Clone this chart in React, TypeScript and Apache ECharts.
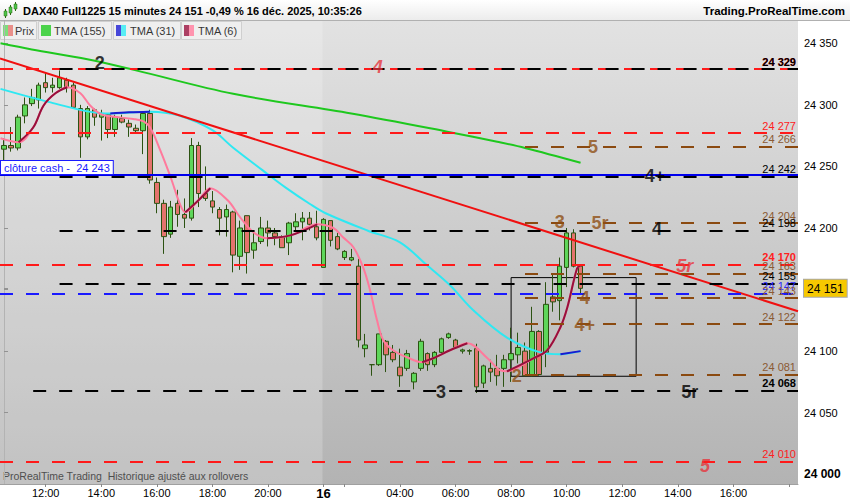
import React, { useEffect, useRef } from 'react';
import * as echarts from 'echarts';

const FONT = 'Arial, "Liberation Sans", sans-serif';

// 15-minute bars: index 0 = 15 déc. 10:30 ... 45 = 21:45 ; 46 = 16 déc. 01:15 ... 83 = 10:30
// [open, close, low, high]
const ohlc: number[][] = [
  [24264, 24267, 24255, 24273], [24267, 24265, 24262, 24282], [24265, 24290, 24263, 24292],
  [24291, 24300, 24285, 24306], [24301, 24306, 24299, 24313], [24304, 24316, 24297, 24318],
  [24318, 24314, 24310, 24326], [24314, 24316, 24310, 24322], [24314, 24322, 24313, 24328],
  [24320, 24314, 24310, 24322], [24316, 24298, 24297, 24318], [24297, 24274, 24257, 24300],
  [24274, 24297, 24272, 24299], [24296, 24290, 24283, 24297], [24290, 24293, 24271, 24296],
  [24292, 24280, 24273, 24293], [24280, 24290, 24274, 24292], [24289, 24286, 24285, 24292],
  [24285, 24282, 24274, 24288], [24281, 24279, 24277, 24284], [24279, 24293, 24260, 24294],
  [24293, 24239, 24236, 24296], [24237, 24220, 24212, 24241], [24220, 24193, 24179, 24223],
  [24195, 24217, 24192, 24222], [24220, 24211, 24201, 24231], [24211, 24208, 24200, 24224],
  [24208, 24267, 24206, 24273], [24267, 24228, 24217, 24270], [24228, 24224, 24222, 24250],
  [24222, 24217, 24212, 24230], [24215, 24208, 24194, 24217], [24209, 24215, 24193, 24219],
  [24213, 24178, 24164, 24214], [24177, 24200, 24166, 24206], [24210, 24180, 24163, 24210],
  [24182, 24188, 24175, 24197], [24189, 24200, 24187, 24209], [24200, 24196, 24185, 24206],
  [24196, 24193, 24186, 24200], [24193, 24184, 24184, 24194], [24188, 24204, 24178, 24205],
  [24201, 24205, 24198, 24212], [24205, 24208, 24190, 24213], [24208, 24203, 24198, 24213],
  [24201, 24192, 24190, 24214],
  [24168, 24207, 24168, 24208], [24206, 24190, 24185, 24206], [24193, 24183, 24182, 24196],
  [24176, 24181, 24174, 24182], [24174, 24176, 24173, 24183], [24169, 24109, 24103, 24175],
  [24102, 24105, 24095, 24114], [24089, 24089, 24080, 24089], [24089, 24114, 24088, 24114],
  [24108, 24097, 24083, 24109], [24099, 24093, 24091, 24105], [24087, 24080, 24071, 24102],
  [24086, 24098, 24084, 24101], [24075, 24082, 24069, 24083], [24086, 24108, 24084, 24110],
  [24098, 24089, 24084, 24099], [24089, 24099, 24087, 24100], [24099, 24110, 24098, 24111],
  [24111, 24114, 24110, 24115], [24109, 24103, 24102, 24110], [24100, 24101, 24098, 24102],
  [24100, 24100.5, 24097, 24101.5], [24102, 24071, 24066, 24106], [24074, 24088, 24070, 24089],
  [24086, 24083, 24075, 24093], [24086, 24080, 24072, 24097], [24086, 24093, 24071, 24097],
  [24093, 24098, 24075, 24119], [24097, 24103, 24090, 24115], [24100, 24080, 24080, 24107],
  [24080, 24116, 24079, 24136], [24116, 24081, 24080, 24117], [24099, 24138, 24087, 24156],
  [24144, 24140, 24132, 24162], [24141, 24169, 24125, 24176], [24168, 24196, 24152, 24200],
  [24196, 24169, 24168, 24199], [24169, 24151, 24147, 24170],
];

// moving averages: [bar index, value]
const tma155: number[][] = [
  [-0.5, 24350], [4, 24345], [12, 24337], [19, 24328], [33, 24309], [50, 24293],
  [64, 24278], [71, 24270], [75, 24265], [83, 24253],
];
const tma31: number[][] = [
  [-0.5, 24313], [6.7, 24302], [13.9, 24293.2], [15.3, 24293], [21, 24294.5], [25.1, 24291.5],
  [30, 24279.4], [32.9, 24265.6], [37.2, 24247], [40.5, 24233], [44.1, 24219.3], [46.3, 24212],
  [52.3, 24198], [57, 24188.4], [60.9, 24169.7], [64.2, 24153.5], [67.6, 24133], [72.4, 24111],
  [77.2, 24099], [80.1, 24097.5], [83, 24100],
];
const tma31Rising: number[][][] = [
  [[15.3, 24293], [18, 24294], [21, 24294.5]],
  [[80.1, 24097.5], [83, 24100]],
];
const tma6: number[][] = [
  [-0.5, 24272.9], [2.1, 24269.6], [4.2, 24281.6], [5.7, 24299.5], [7.4, 24309.4], [9.1, 24314.3],
  [11, 24309.4], [12.4, 24299.5], [13.9, 24292.5], [15.3, 24290.7], [18.6, 24288.5], [20.1, 24286.5],
  [21.1, 24281], [22.5, 24263], [24, 24241], [25.4, 24218.4], [26.1, 24212.8], [28, 24222.5],
  [29.7, 24232.3], [32.2, 24222.5], [34, 24208.7], [35.9, 24196.5], [37.9, 24191.7], [41.2, 24194],
  [45.1, 24203], [47.4, 24200], [48.8, 24192.5], [50.3, 24184.4], [51.7, 24168], [52.7, 24149.4],
  [53.7, 24125], [54.6, 24108.8], [56, 24100.7], [58, 24095], [60.2, 24091], [61.8, 24094.2],
  [64.2, 24100.7], [66.7, 24106.4], [69.6, 24094.2], [71.4, 24084.5], [72.4, 24083.6],
  [76.2, 24094.2], [78.2, 24100.7], [80.1, 24119.4], [81.1, 24135.6], [82.5, 24167.3], [83, 24169.7],
];
const tma6Rising: number[][][] = [
  [[2.1, 24269.6], [4.2, 24281.6], [5.7, 24299.5], [7.4, 24309.4], [9.1, 24314.3]],
  [[26.1, 24212.8], [28, 24222.5], [29.7, 24232.3]],
  [[37.9, 24191.7], [41.2, 24194], [45.1, 24203]],
  [[60.2, 24091], [61.8, 24094.2], [64.2, 24100.7], [66.7, 24106.4]],
  [[72.4, 24083.6], [76.2, 24094.2], [78.2, 24100.7], [80.1, 24119.4], [81.1, 24135.6], [82.5, 24167.3], [83, 24169.7]],
];
const trendLine: number[][] = [[-0.576, 24337.6], [114.3, 24132.4]];

// horizontal levels
const levelValues = [24329, 24329, 24277, 24266, 24243, 24242, 24204, 24198, 24170, 24163, 24155, 24147, 24143, 24122, 24081, 24068, 24010];
const levelKinds = ['red', 'black', 'red', 'brown', 'blueSolid', 'black', 'brown', 'black', 'red', 'brown', 'black', 'blue', 'brown', 'brown', 'brown', 'black', 'red'];
const levelFrom = [-0.576, 8, -0.576, 75, -0.576, 8, 75, 8, -0.576, 75, 8, -0.576, 75, 75, 75, 4.2, -0.576];
const levelBold = [24329, 24170, 24068];
const lastPrice = 24151;
const cashClose = 'clôture cash -  24 243';

// level tags
const tagText = ['2', '4', '5', '4+', '3', '5r', '4', '5r', '4', '4+', '2', '3', '5r', '5'];
const tagX = [13.8, 53.8, 84.8, 93.7, 80, 85.8, 94, 98, 83.6, 83.6, 73.8, 62.9, 98.7, 100.9];
const tagY = [24334, 24331, 24266, 24242, 24205, 24204, 24199, 24169, 24143, 24121, 24080, 24067, 24067, 24007];
const tagKind = ['black', 'red', 'brown', 'black', 'brown', 'brown', 'black', 'red', 'brown', 'brown', 'brown', 'black', 'black', 'red'];

// box
const boxFrom = [73, 24159.7];
const boxTo = [91, 24079.6];

// axes
const yTicks = [24000, 24050, 24100, 24150, 24200, 24250, 24300, 24350];
const yLabels = [24000, 24050, 24100, 24200, 24250, 24300, 24350];
const xTickIdx = [6, 14, 22, 30, 38, 46, 49, 57, 65, 73, 81, 89, 97, 105, 113];
const xTickLabels = ['12:00', '14:00', '16:00', '18:00', '20:00', '16', '', '04:00', '06:00', '08:00', '10:00', '12:00', '14:00', '16:00', ''];
const dayBreak = 45.85;

const X_MIN = -0.576;
const X_MAX = 114.3;
const Y_MIN = 23992.1;
const Y_MAX = 24368.1;

const fmt = (v: number) => String(Math.round(v)).replace(/\B(?=(\d{3})+(?!\d))/g, ' ');

const lineColor: Record<string, string> = {
  red: '#ff1a1a', black: '#000000', brown: '#8b4a10', blue: '#1a1aff', blueSolid: '#0000ee',
};
const labelColor: Record<string, string> = {
  red: '#ff2020', black: '#000000', brown: '#8b5a34', blue: '#2a2aff', blueSolid: '#000000',
};
const tagColor: Record<string, string> = { black: '#000000', red: '#e8343c', brown: '#8f4f14' };

function buildOption() {
  const levelLines = levelValues.map((v, k) => {
    const kind = levelKinds[k];
    const solid = kind === 'blueSolid';
    const label = solid
      ? {
          show: true, position: 'insideStartTop', distance: 1, formatter: cashClose,
          color: '#1a1aff', fontSize: 11, fontFamily: FONT, backgroundColor: '#ffffff',
          borderColor: '#1a1aff', borderWidth: 1, padding: [1, 3, 1, 3],
        }
      : {
          show: true, position: 'insideEndTop', distance: 2, formatter: fmt(v),
          color: labelColor[kind], fontSize: 11, fontFamily: FONT,
          fontWeight: levelBold.includes(v) ? 'bold' : 'normal',
        };
    return [
      {
        coord: [solid ? X_MIN : levelFrom[k], v],
        lineStyle: { color: lineColor[kind], width: 2, type: solid ? 'solid' : [13, 13], opacity: 1 },
        label,
      },
      { coord: [X_MAX, v] },
    ];
  });

  const lineSeries = (data: number[][], color: string, z = 3) => ({
    type: 'line', data, symbol: 'none', smooth: 0.35, silent: true, z,
    lineStyle: { color, width: 2 }, emphasis: { disabled: true },
  });

  return {
    animation: false,
    textStyle: { fontFamily: FONT },
    grid: {
      left: 0, right: 52, top: 21, bottom: 16, show: true, borderWidth: 0,
      outerBoundsMode: 'none',
      backgroundColor: new echarts.graphic.LinearGradient(0, 0, 0, 1, [
        { offset: 0, color: '#e2e2e2' }, { offset: 1, color: '#b3b3b3' },
      ]),
    },
    xAxis: {
      type: 'value', min: X_MIN, max: X_MAX,
      splitLine: { show: false },
      axisLine: { show: true, lineStyle: { color: '#a0a0a0' } },
      axisTick: { show: true, customValues: xTickIdx, length: 3, lineStyle: { color: '#888' } },
      axisLabel: {
        customValues: xTickIdx.filter((_, k) => xTickLabels[k] !== ''),
        margin: 3,
        fontSize: 11, color: '#000', fontFamily: FONT,
        formatter: (v: number) => {
          const k = xTickIdx.indexOf(Math.round(v));
          const t = k >= 0 ? xTickLabels[k] : '';
          return t === '16' ? '{d|16}' : t;
        },
        rich: { d: { fontWeight: 'bold', fontSize: 13, color: '#000', fontFamily: FONT } },
      },
    },
    yAxis: {
      type: 'value', position: 'right', min: Y_MIN, max: Y_MAX, scale: true,
      splitLine: { show: false },
      axisLine: { show: true, lineStyle: { color: '#a0a0a0' } },
      axisTick: { show: true, customValues: [...yTicks, lastPrice], length: 4, lineStyle: { color: '#777' } },
      axisLabel: {
        customValues: [...yLabels, lastPrice], margin: 6, fontSize: 11, color: '#000', fontFamily: FONT,
        formatter: (v: number) => (v === 24000 ? '{b|24 000}' : v === lastPrice ? '{p|' + fmt(v) + '}' : fmt(v)),
        rich: {
          b: { fontWeight: 'bold', fontSize: 12, color: '#000', fontFamily: FONT },
          p: {
            fontSize: 12, color: '#000', fontFamily: FONT, backgroundColor: '#f6c800',
            borderColor: '#a8a8a8', borderWidth: 1, padding: [3, 3, 2, 3],
          },
        },
      },
    },
    series: [
      {
        type: 'line', z: 1, silent: true, symbol: 'none', data: [[X_MIN, Y_MIN]],
        lineStyle: { width: 0 },
        markArea: {
          silent: true,
          itemStyle: { color: 'rgba(255,255,255,0.2)' },
          data: [[{ coord: [X_MIN, Y_MIN] }, { coord: [dayBreak, Y_MAX] }]],
        },
      },
      {
        type: 'candlestick', z: 2, barWidth: 5, silent: true,
        data: ohlc.map((d, i) => [i, ...d]),
        encode: { x: 0, y: [1, 2, 3, 4] },
        itemStyle: {
          color: '#5ed65a', color0: '#e4736d',
          borderColor: '#2c5212', borderColor0: '#2c5212', borderWidth: 1,
        },
      },
      lineSeries(tma155, '#1ec81e'),
      lineSeries(tma31, '#2ee8f2'),
      ...tma31Rising.map((s) => lineSeries(s, '#1a1ad0', 3.1)),
      lineSeries(tma6, '#ff7a9c'),
      ...tma6Rising.map((s) => lineSeries(s, '#98103c', 3.1)),
      {
        type: 'line', z: 4, silent: true, symbol: 'none', data: trendLine,
        lineStyle: { color: '#f01010', width: 2 },
        markLine: {
          silent: true, symbol: ['none', 'none'], animation: false,
          data: levelLines,
        },
        markArea: {
          silent: true,
          itemStyle: { color: 'rgba(0,0,0,0)', borderColor: '#000', borderWidth: 1 },
          data: [[{ coord: boxFrom }, { coord: boxTo }]],
        },
      },
      {
        type: 'scatter', z: 6, silent: true, symbolSize: 0,
        data: tagText.map((t, k) => ({
          value: [tagX[k], tagY[k]],
          label: {
            formatter: t, color: tagColor[tagKind[k]],
            fontStyle: tagKind[k] === 'red' ? 'italic' : 'normal',
            textShadowColor: tagKind[k] === 'brown' ? 'rgba(70,70,170,0.45)' : 'transparent',
            textShadowOffsetX: 1, textShadowOffsetY: 1, textShadowBlur: 0,
          },
        })),
        label: { show: true, position: 'inside', fontSize: 18, fontWeight: 'bold', fontFamily: FONT },
      },
    ],
    graphic: [
      {
        type: 'rect', shape: { x: 0, y: 0, width: 850, height: 20 }, silent: true,
        style: {
          fill: new echarts.graphic.LinearGradient(0, 0, 0, 1, [
            { offset: 0, color: '#ffffff' }, { offset: 1, color: '#ececec' },
          ]),
        },
      },
      { type: 'line', shape: { x1: 0, y1: 20.5, x2: 850, y2: 20.5 }, style: { stroke: '#b0b0b0', lineWidth: 1 } },
      // small candle icon
      { type: 'line', shape: { x1: 5.5, y1: 9, x2: 5.5, y2: 18 }, style: { stroke: '#2c6a12', lineWidth: 1 } },
      { type: 'rect', shape: { x: 4, y: 11, width: 3, height: 5 }, style: { fill: '#4cc44a', stroke: '#2c6a12', lineWidth: 0.5 } },
      { type: 'line', shape: { x1: 10.5, y1: 5, x2: 10.5, y2: 15 }, style: { stroke: '#2c6a12', lineWidth: 1 } },
      { type: 'rect', shape: { x: 9, y: 7, width: 3, height: 6 }, style: { fill: '#4cc44a', stroke: '#2c6a12', lineWidth: 0.5 } },
      { type: 'line', shape: { x1: 15.5, y1: 2, x2: 15.5, y2: 11 }, style: { stroke: '#2c6a12', lineWidth: 1 } },
      { type: 'rect', shape: { x: 14, y: 4, width: 3, height: 5 }, style: { fill: '#4cc44a', stroke: '#2c6a12', lineWidth: 0.5 } },
      {
        type: 'text', x: 23, y: 10.5,
        style: {
          text: 'DAX40 Full1225 15 minutes 24 151 -0,49 % 16 déc. 2025, 10:35:26',
          fontSize: 11, fontWeight: 'bold', fontFamily: FONT, fill: '#000', verticalAlign: 'middle',
        },
      },
      {
        type: 'text', x: 845, y: 10.5,
        style: {
          text: 'Trading.ProRealTime.com', fontSize: 11.5, fontWeight: 'bold', fontFamily: FONT,
          fill: '#000', textAlign: 'right', verticalAlign: 'middle',
        },
      },
      // legend boxes
      { type: 'rect', shape: { x: 0.5, y: 21.5, width: 36, height: 18 }, style: { fill: '#ececec', stroke: '#c4c4c4', lineWidth: 1 } },
      { type: 'rect', shape: { x: 3, y: 25, width: 5, height: 11 }, style: { fill: '#5ed65a' } },
      { type: 'rect', shape: { x: 8, y: 25, width: 5, height: 11 }, style: { fill: '#e4736d' } },
      { type: 'text', x: 15, y: 31, style: { text: 'Prix', fontSize: 11, fontFamily: FONT, fill: '#000', verticalAlign: 'middle' } },
      { type: 'rect', shape: { x: 38.5, y: 21.5, width: 73, height: 18 }, style: { fill: '#ececec', stroke: '#c4c4c4', lineWidth: 1 } },
      { type: 'rect', shape: { x: 41, y: 25, width: 10, height: 11 }, style: { fill: '#1ec81e' } },
      { type: 'text', x: 54, y: 31, style: { text: 'TMA (155)', fontSize: 11, fontFamily: FONT, fill: '#000', verticalAlign: 'middle' } },
      { type: 'rect', shape: { x: 113.5, y: 21.5, width: 67, height: 18 }, style: { fill: '#ececec', stroke: '#c4c4c4', lineWidth: 1 } },
      { type: 'rect', shape: { x: 116, y: 25, width: 5, height: 11 }, style: { fill: '#1a1ad0' } },
      { type: 'rect', shape: { x: 121, y: 25, width: 5, height: 11 }, style: { fill: '#2ee8f2' } },
      { type: 'text', x: 130, y: 31, style: { text: 'TMA (31)', fontSize: 11, fontFamily: FONT, fill: '#000', verticalAlign: 'middle' } },
      { type: 'rect', shape: { x: 181.5, y: 21.5, width: 60, height: 18 }, style: { fill: '#ececec', stroke: '#c4c4c4', lineWidth: 1 } },
      { type: 'rect', shape: { x: 184, y: 25, width: 5, height: 11 }, style: { fill: '#98103c' } },
      { type: 'rect', shape: { x: 189, y: 25, width: 5, height: 11 }, style: { fill: '#ff7a9c' } },
      { type: 'text', x: 198, y: 31, style: { text: 'TMA (6)', fontSize: 11, fontFamily: FONT, fill: '#000', verticalAlign: 'middle' } },
      {
        type: 'text', x: 3, y: 476,
        style: {
          text: 'ProRealTime Trading  Historique ajusté aux rollovers', fontSize: 10.5, fontFamily: FONT,
          fill: '#222', verticalAlign: 'middle',
        },
      },
    ],
  };
}

export default function App() {
  const ref = useRef<HTMLDivElement>(null);
  useEffect(() => {
    document.body.style.margin = '0';
    const chart = echarts.init(ref.current as HTMLDivElement, null, { renderer: 'svg', width: 850, height: 500 });
    chart.setOption(buildOption() as any);
    return () => chart.dispose();
  }, []);
  return <div ref={ref} style={{ width: 850, height: 500 }} />;
}
